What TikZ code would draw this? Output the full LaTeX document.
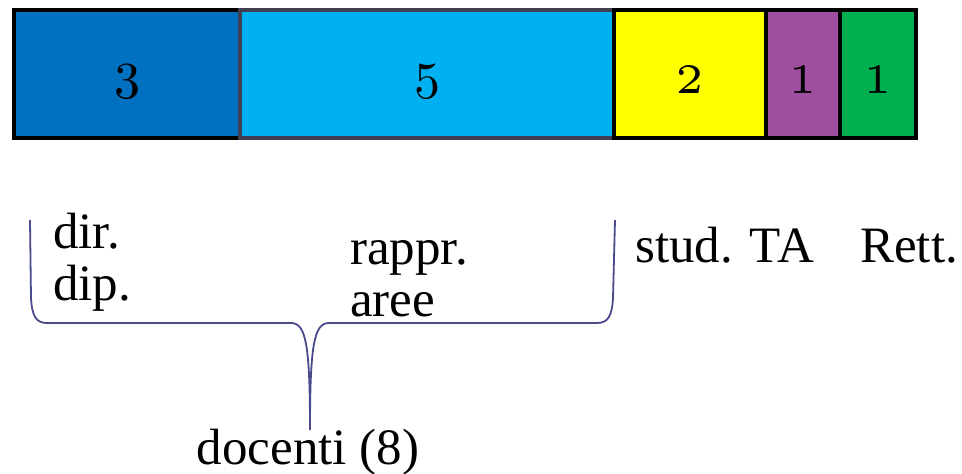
\documentclass[tikz,border=0pt]{standalone}
\usepackage{fontspec}
\setmainfont{Liberation Serif}
\newfontfamily\numfont{lmroman10-regular.otf}
\newfontfamily\smallnumfont{lmroman5-regular.otf}
\usetikzlibrary{positioning}

\definecolor{darkblue}{HTML}{0070C0}
\definecolor{lightblue}{HTML}{00B0F0}
\definecolor{yellowcell}{HTML}{FFFF00}
\definecolor{purplecell}{HTML}{A04FA0}
\definecolor{greencell}{HTML}{00B050}
\definecolor{greyedge}{HTML}{404052}
\definecolor{bracecol}{HTML}{4A4A8C}

\begin{document}
\begin{tikzpicture}[x=1pt,y=-1pt,
    cell/.style={draw=black, line width=4pt, minimum height=128pt,
        inner sep=0pt, outer sep=0pt},
    bignum/.style={font=\numfont\fontsize{52}{60}\selectfont, text height=50pt},
    smallnum/.style={font=\smallnumfont\fontsize{42}{50}\selectfont, text height=38pt},
    lbl/.style={font=\rmfamily\fontsize{51}{52}\selectfont, inner sep=0pt, anchor=base west, align=left}]
    \useasboundingbox (0,0) rectangle (962,474);

    % The bar: one cell per group
    \node[cell, bignum, fill=darkblue, minimum width=226pt, anchor=north west] (dir) at (14,10) {3};
    \node[cell, bignum, draw=greyedge, fill=lightblue, minimum width=374pt, right=0pt of dir] (rappr) {5};
    \node[cell, smallnum, fill=yellowcell, minimum width=152pt, right=0pt of rappr] (stud) {2};
    \node[cell, smallnum, fill=purplecell, minimum width=74pt, right=0pt of stud] (ta) {1};
    \node[cell, smallnum, fill=greencell, minimum width=76pt, right=0pt of ta] (rett) {1};

    % Labels under the bar (base = last line)
    \node[lbl] (dirlbl) at (53,300) {dir.\\dip.};
    \node[lbl] (rapprlbl) at (350,316) {rappr.\\aree};
    \node[lbl] (studlbl) at (635,262) {stud. TA};
    \node[lbl] (rettlbl) at (860,262) {Rett.};
    \node[lbl, anchor=base] (doc) at (308,464) {docenti (8)};

    % The brace over the teachers
    \coordinate (bl) at (30,220);
    \coordinate (br) at (615,220);
    \coordinate (tip) at (310,430);
    \draw[bracecol, line width=1.8pt]
        (bl) -- (31,298) .. controls (32,316) and (36,323) .. (47,323)
        -- (291,323) .. controls (306,323) and (310,345) .. (tip)
        .. controls (310,345) and (314,323) .. (329,323)
        -- (597,323) .. controls (608,323) and (612,316) .. (613,298) -- (br);
\end{tikzpicture}
\end{document}
